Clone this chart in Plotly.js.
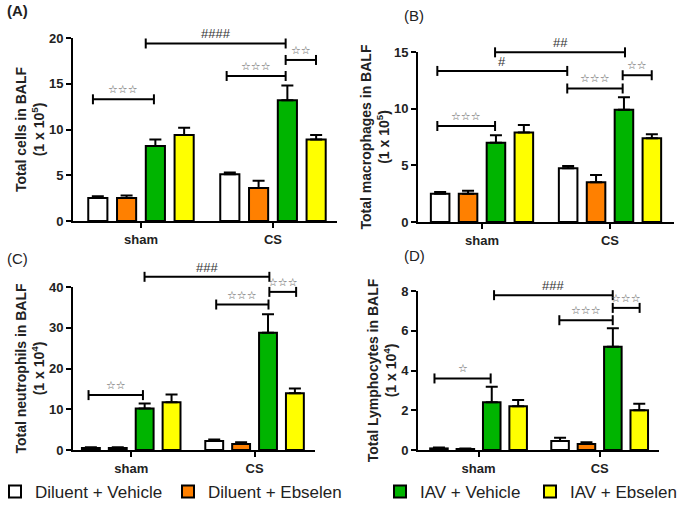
<!DOCTYPE html>
<html>
<head>
<meta charset="utf-8">
<script src="https://cdn.plot.ly/plotly-3.0.1.min.js"></script>
<style>body{margin:0;background:#fff}</style>
</head>
<body>
<div id="graph" style="width:685px;height:506px"></div>
<script>
var groups = ['sham', 'CS'];
var treatments = ['Diluent + Vehicle', 'Diluent + Ebselen', 'IAV + Vehicle', 'IAV + Ebselen'];
var colors = ['#ffffff', '#ff8000', '#00b400', '#ffff00'];

// one row per treatment, columns = [sham, CS]
var cellsMean = [[2.5, 5.1], [2.5, 3.6], [8.2, 13.2], [9.4, 8.9]];
var cellsSem  = [[0.2, 0.2], [0.3, 0.8], [0.7, 1.6], [0.8, 0.5]];
var macroMean = [[2.5, 4.75], [2.5, 3.5], [7.0, 9.9], [7.9, 7.4]];
var macroSem  = [[0.15, 0.2], [0.25, 0.65], [0.65, 1.1], [0.65, 0.35]];
var neutroMean = [[0.5, 2.2], [0.5, 1.5], [10.2, 28.8], [11.7, 13.9]];
var neutroSem  = [[0.2, 0.4], [0.2, 0.4], [1.2, 4.5], [1.9, 1.2]];
var lymphoMean = [[0.08, 0.45], [0.05, 0.3], [2.4, 5.2], [2.2, 2.0]];
var lymphoSem  = [[0.04, 0.17], [0.02, 0.09], [0.78, 0.93], [0.32, 0.33]];

// significance brackets: [from x, to x, height, label]
var cellsBrackets = [[-0.364, 0.098, 13.3, '☆☆☆'], [0.036, 1.096, 19.4, '####'], [0.649, 1.096, 15.85, '☆☆☆'], [1.096, 1.326, 17.6, '☆☆']];
var macroBrackets = [[-0.349, 0.102, 8.47, '☆☆☆'], [-0.349, 0.666, 13.33, '#'], [0.102, 1.117, 14.97, '##'], [0.666, 1.099, 11.78, '☆☆☆'], [1.099, 1.326, 12.95, '☆☆']];
var neutroBrackets = [[-0.346, 0.095, 13.47, '☆☆'], [0.108, 1.12, 42.5, '###'], [0.689, 1.113, 35.7, '☆☆☆'], [1.12, 1.337, 38.8, '☆☆☆']];
var lymphoBrackets = [[-0.364, 0.1, 3.6, '☆'], [0.128, 1.108, 7.79, '###'], [0.667, 1.108, 6.53, '☆☆☆'], [1.108, 1.33, 7.15, '☆☆☆']];

var W = 685, H = 506;
var font = 'Liberation Sans, Arial, sans-serif';
var step = 0.218, barW = 0.145;
var legendX = [-5, 168, 380, 530];   // left edge of each legend entry, px

var panels = [
  {mean: cellsMean, sem: cellsSem, br: cellsBrackets, title: 'Total cells in BALF<br>(1 x 10<sup>5</sup>)',
   ymax: 20, dtick: 5, xr: [-0.515, 1.485], px: [73, 337], py: [38, 221], letter: '<b>(A)</b>', lx: 5, ly: 11},
  {mean: macroMean, sem: macroSem, br: macroBrackets, title: 'Total macrophages in BALF<br>(1 x 10<sup>5</sup>)',
   ymax: 15, dtick: 5, xr: [-0.5, 1.5], px: [418, 674], py: [52, 222], letter: '(B)', lx: 402, ly: 15},
  {mean: neutroMean, sem: neutroSem, br: neutroBrackets, title: 'Total neutrophils in BALF<br>(1 x 10<sup>4</sup>)',
   ymax: 40, dtick: 10, xr: [-0.472, 1.49], px: [73, 315], py: [287, 450], letter: '(C)', lx: 5, ly: 258},
  {mean: lymphoMean, sem: lymphoSem, br: lymphoBrackets, title: 'Total Lymphocytes in BALF<br>(1 x 10<sup>4</sup>)',
   ymax: 8, dtick: 2, xr: [-0.5, 1.49], px: [418, 659], py: [291, 450], letter: '(D)', lx: 402, ly: 255}
];

var data = [], shapes = [], annotations = [];
var layout = {
  width: W, height: H,
  margin: {l: 0, r: 0, t: 0, b: 0, autoexpand: false},
  paper_bgcolor: '#fff', plot_bgcolor: '#fff',
  barmode: 'overlay',
  font: {family: font, color: '#222'}
};

treatments.forEach(function (t, i) {
  layout['legend' + (i === 0 ? '' : i + 1)] = {
    orientation: 'h', x: legendX[i] / W, xanchor: 'left', y: 1 - 492 / H, yanchor: 'middle',
    font: {size: 17, color: '#222'}, bgcolor: 'rgba(0,0,0,0)'
  };
});

panels.forEach(function (p, k) {
  var n = k === 0 ? '' : String(k + 1);
  var xa = 'x' + n, ya = 'y' + n;
  for (var i = 0; i < treatments.length; i++) {
    data.push({
      type: 'bar',
      x: groups.map(function (g, j) { return j + (i - 1.5) * step; }),
      y: p.mean[i],
      width: barW,
      name: treatments[i],
      legendgroup: treatments[i],
      showlegend: k === 0,
      legend: i === 0 ? 'legend' : 'legend' + (i + 1),
      marker: {color: colors[i], line: {color: '#000', width: 2}},
      error_y: {type: 'data', symmetric: false, array: p.sem[i], arrayminus: [0, 0],
                color: '#000', thickness: 2, width: 6},
      xaxis: xa, yaxis: ya,
      hoverinfo: 'x+y'
    });
  }
  layout['xaxis' + n] = {
    domain: [p.px[0] / W, p.px[1] / W], anchor: ya, range: p.xr,
    tickvals: [0, 1], ticktext: groups, ticks: 'outside', ticklen: 5, tickwidth: 2, tickcolor: '#000',
    showline: true, linecolor: '#000', linewidth: 2, showgrid: false, zeroline: false,
    tickfont: {size: 13, family: font, weight: 'bold', color: '#222'}, fixedrange: true
  };
  layout['yaxis' + n] = {
    domain: [1 - p.py[1] / H, 1 - p.py[0] / H], anchor: xa, range: [0, p.ymax], dtick: p.dtick,
    ticks: 'outside', ticklen: 5, tickwidth: 2, tickcolor: '#000',
    showline: true, linecolor: '#000', linewidth: 2, showgrid: false, zeroline: false,
    tickfont: {size: 13, family: font, weight: 'bold', color: '#222'},
    title: {text: p.title, standoff: 1, font: {size: 14, family: font, weight: 'bold', color: '#222'}},
    fixedrange: true
  };
  p.br.forEach(function (b) {
    var f = b[2] / p.ymax;
    var line = {color: '#000', width: 2};
    shapes.push({type: 'line', xref: xa, yref: ya + ' domain', x0: b[0], x1: b[1], y0: f, y1: f, line: line});
    [b[0], b[1]].forEach(function (xe) {
      shapes.push({type: 'line', xref: xa, yref: ya + ' domain', ysizemode: 'pixel', yanchor: f,
                   x0: xe, x1: xe, y0: -5, y1: 5, line: line});
    });
    var isHash = b[3].charAt(0) === '#';
    annotations.push({
      xref: xa, yref: ya + ' domain', x: (b[0] + b[1]) / 2, y: f, yanchor: 'bottom', yshift: isHash ? 0 : 1,
      text: b[3], showarrow: false,
      font: isHash ? {size: 13, family: font, color: '#333'} : {size: 11, family: 'DejaVu Sans', color: '#555'}
    });
  });
  annotations.push({
    xref: 'paper', yref: 'paper', x: p.lx / W, y: 1 - p.ly / H, xanchor: 'left', yanchor: 'middle',
    text: p.letter, showarrow: false, font: {size: 15, family: font, color: '#222'}
  });
});

layout.shapes = shapes;
layout.annotations = annotations;

Plotly.newPlot('graph', data, layout, {displayModeBar: false, staticPlot: true});
</script>
</body>
</html>
